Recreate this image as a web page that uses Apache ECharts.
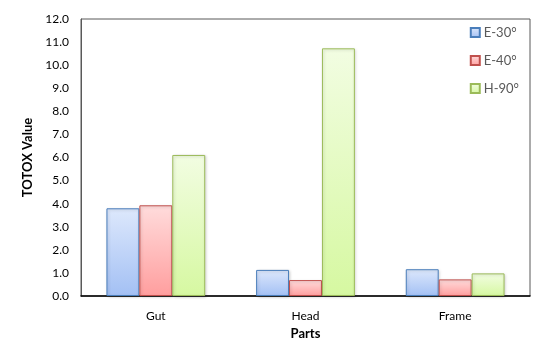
<!DOCTYPE html>
<html>
<head>
<meta charset="utf-8">
<script src="https://cdn.jsdelivr.net/npm/echarts@6/dist/echarts.min.js"></script>
<style>
  html, body { margin: 0; padding: 0; background: #fff; }
  #chart { width: 550px; height: 345px; }
</style>
</head>
<body>
<div id="chart"></div>
<script>
const categories = ['Gut', 'Head', 'Frame']
const seriesNames = ['E-30°', 'E-40°', 'H-90°']
const e30 = [3.80, 1.13, 1.16]
const e40 = [3.93, 0.69, 0.72]
const h90 = [6.11, 10.73, 0.98]

const font = 'Lato, "Open Sans", sans-serif'

// 渐变填充 + 边框
function barStyle(top, bottom, border) {
  return {
    color: new echarts.graphic.LinearGradient(0, 0, 0, 1, [
      { offset: 0, color: top },
      { offset: 1, color: bottom }
    ]),
    borderColor: border,
    borderWidth: 1,
    shadowColor: 'rgba(0,0,0,0.18)',
    shadowBlur: 3,
    shadowOffsetX: 1,
    shadowOffsetY: 1
  }
}

const myChart = echarts.init(document.getElementById('chart'))
const options = {
  animation: false,
  textStyle: { fontFamily: font },
  grid: {
    left: 81,
    right: 20,
    top: 19,
    bottom: 49,
    outerBoundsMode: 'none',
    show: true,
    borderColor: '#595959',
    borderWidth: 1
  },
  legend: {
    orient: 'vertical',
    right: 26,
    top: 21,
    itemWidth: 9,
    itemHeight: 9,
    itemGap: 15,
    icon: 'rect',
    textStyle: { color: '#595959', fontSize: 13, fontFamily: font, padding: [0, 0, 0, -1] },
    data: seriesNames
  },
  xAxis: {
    type: 'category',
    data: categories,
    name: 'Parts',
    nameLocation: 'middle',
    nameGap: 31,
    nameTextStyle: { fontWeight: 'bold', fontSize: 13, color: '#000', fontFamily: font },
    axisLine: { lineStyle: { color: '#000', width: 1.5 } },
    axisTick: { show: false },
    axisLabel: { color: '#000', fontSize: 12, margin: 14 }
  },
  yAxis: {
    type: 'value',
    min: 0,
    max: 12,
    interval: 1,
    name: 'TOTOX Value',
    nameLocation: 'middle',
    nameGap: 45,
    nameTextStyle: { fontWeight: 'bold', fontSize: 13, color: '#000', fontFamily: font },
    axisLine: { show: true, lineStyle: { color: '#595959' } },
    axisTick: { show: false },
    splitLine: { show: false },
    axisLabel: {
      color: '#000',
      fontSize: 12,
      margin: 12,
      formatter: v => v.toFixed(1)
    }
  },
  series: [
    {
      name: seriesNames[0], type: 'bar', data: e30,
      barGap: '0%', barCategoryGap: '34%',
      itemStyle: barStyle('#dde8fc', '#a3c0f4', '#4a7ebb')
    },
    {
      name: seriesNames[1], type: 'bar', data: e40,
      itemStyle: barStyle('#ffdcdc', '#ff9e9e', '#c0504d')
    },
    {
      name: seriesNames[2], type: 'bar', data: h90,
      itemStyle: barStyle('#f2fde2', '#d6f8a1', '#9bbb59')
    }
  ]
}
myChart.setOption(options)
</script>
</body>
</html>
